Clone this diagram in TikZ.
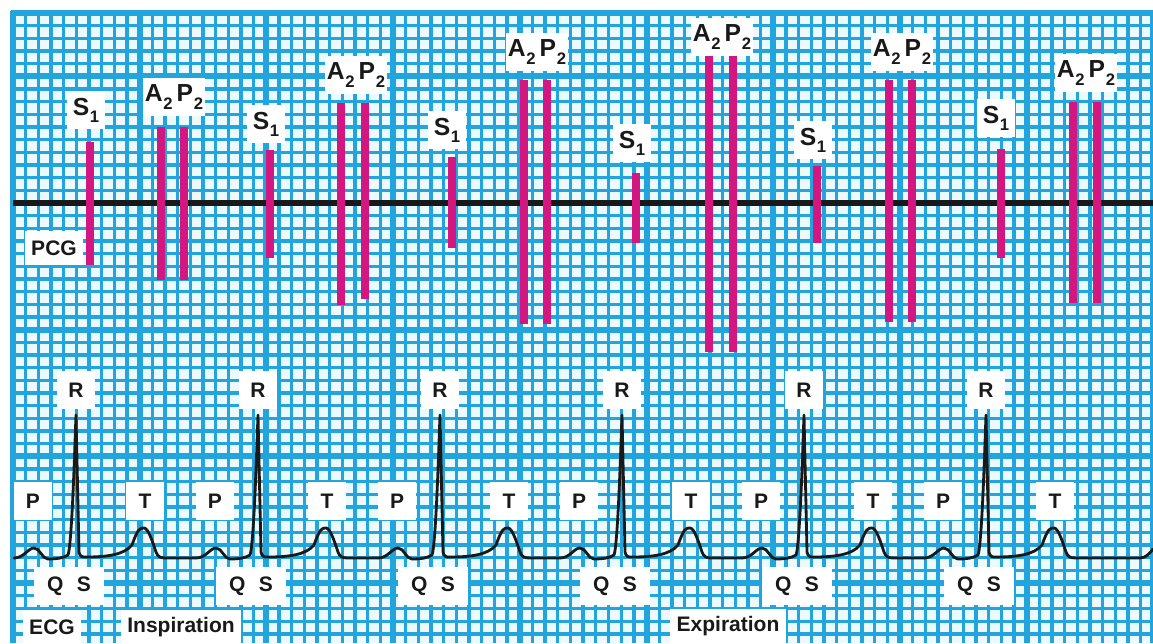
\documentclass[tikz,border=0pt]{standalone}
\usepackage{fontspec}
\setmainfont{Liberation Sans}
\definecolor{gridblue}{RGB}{34,164,220}
\definecolor{cellbg}{RGB}{236,250,254}
\definecolor{barcol}{RGB}{212,22,128}
\definecolor{ink}{RGB}{25,25,25}
\newcommand\lowsub[1]{\kern0.5pt\raisebox{-0.55ex}{\fontsize{12.5}{12.5}\selectfont #1}}
\begin{document}
\begin{tikzpicture}[x=0.75pt,y=-0.75pt,
  minorline/.style={gridblue,line width=2.5pt},
  majorline/.style={gridblue,line width=4.5pt},
  pcgline/.style={ink,line width=3.9pt},
  soundbar/.style={barcol,line width=6.6pt},
  ecgline/.style={ink,line width=2.1pt,line join=round,line cap=round},
  sndlab/.style={fill=white,inner sep=0pt,text=ink,font=\bfseries\fontsize{18.5}{18.5}\selectfont,minimum height=28pt},
  s1box/.style={sndlab,minimum width=28.5pt},
  apbox/.style={sndlab,minimum width=47pt},
  ecglab/.style={fill=white,inner sep=0pt,text=ink,font=\bfseries\fontsize{15.75}{16}\selectfont,minimum width=28pt,minimum height=28pt},
  qsbox/.style={ecglab,minimum width=52pt},
  wordbox/.style={ecglab,inner xsep=5pt,minimum height=25pt}]
\useasboundingbox (0,0) rectangle (1153,643);
\fill[white] (0,0) rectangle (1153,643);
\fill[cellbg] (13,13) rectangle (1153,643);
% grid
\begin{scope}
\clip (10,10) rectangle (1153,643);
\foreach \i in {0,...,90} \draw[minorline] ({13+\i*12.67},13) -- ({13+\i*12.67},643);
\foreach \j in {0,...,50} \draw[minorline] (13,{13+\j*12.67}) -- (1153,{13+\j*12.67});
\foreach \i in {0,...,9} \draw[majorline] ({13+\i*126.7},11) -- ({13+\i*126.7},643);
\draw[majorline] (11,13) -- (1153,13);
\foreach \j in {0,...,4} \draw[majorline] (13,{76.35+\j*126.7}) -- (1153,{76.35+\j*126.7});
\end{scope}
% PCG baseline
\coordinate (pcgL) at (13,203);
\coordinate (pcgR) at (1153,203);
\draw[pcgline] (pcgL) -- (pcgR);
% S1 bars
\draw[soundbar] (90,142) -- (90,265);
\draw[soundbar] (270,150) -- (270,258);
\draw[soundbar] (452,157) -- (452,248);
\draw[soundbar] (636,173) -- (636,243);
\draw[soundbar] (817,166) -- (817,243);
\draw[soundbar] (1001,149) -- (1001,258);
% A2 P2 bars
\draw[soundbar] (161,127) -- (161,280);
\draw[soundbar] (184,127) -- (184,280);
\draw[soundbar] (341,103) -- (341,305);
\draw[soundbar] (365,103) -- (365,299);
\draw[soundbar] (524,80) -- (524,324);
\draw[soundbar] (547,80) -- (547,324);
\draw[soundbar] (709,55) -- (709,352);
\draw[soundbar] (733,55) -- (733,352);
\draw[soundbar] (889,80) -- (889,322);
\draw[soundbar] (912,80) -- (912,322);
\draw[soundbar] (1073,102) -- (1073,303);
\draw[soundbar] (1097,102) -- (1097,303);
% sound labels
\node[s1box] (s1a) at (86,110) {S\lowsub{1}};
\node[s1box] (s1b) at (266,124) {S\lowsub{1}};
\node[s1box] (s1c) at (447,130) {S\lowsub{1}};
\node[s1box] (s1d) at (632,143) {S\lowsub{1}};
\node[s1box] (s1e) at (813,140) {S\lowsub{1}};
\node[s1box] (s1f) at (996,118) {S\lowsub{1}};
\node[apbox] (ap1) at (174,97) {A\lowsub{2}\,P\lowsub{2}};
\node[apbox] (ap2) at (356,75) {A\lowsub{2}\,P\lowsub{2}};
\node[apbox] (ap3) at (537,52) {A\lowsub{2}\,P\lowsub{2}};
\node[apbox] (ap4) at (722,37) {A\lowsub{2}\,P\lowsub{2}};
\node[apbox] (ap5) at (902,52) {A\lowsub{2}\,P\lowsub{2}};
\node[apbox] (ap6) at (1086,73) {A\lowsub{2}\,P\lowsub{2}};
\node[wordbox] (pcg) at (54,248) {PCG};
% ECG labels
\foreach \r [count=\k] in {76,258,440,622,804,986}{
  \node[ecglab] (r\k) at (\r,390) {R};
  \node[ecglab] (p\k) at ({\r-43},501) {P};
  \node[ecglab] (t\k) at ({\r+69},501) {T};
  \node[qsbox] (qs\k) at ({\r-7},586) {Q\hspace{10pt}S};
}
\node[wordbox] (ecg) at (52,627) {ECG};
\node[wordbox] (insp) at (181,627) {Inspiration};
\node[wordbox] (expi) at (728,626) {Expiration};
% ECG trace
\foreach \r in {76,258,440,622,804,986}{
  \draw[ecgline] ({\r-62},558) .. controls ({\r-52},558) and ({\r-48},548) .. ({\r-42},548)
    .. controls ({\r-36},548) and ({\r-34},559) .. ({\r-28},559)
    .. controls ({\r-20},559) and ({\r-12},558) .. ({\r-8},555)
    .. controls ({\r-4},545) and ({\r-1},440) .. (\r,415)
    -- ({\r+3},552)
    .. controls ({\r+4},557) and ({\r+6},557) .. ({\r+10},557)
    .. controls ({\r+30},557) and ({\r+48},555) .. ({\r+56},545)
    .. controls ({\r+62},528) and ({\r+64},528) .. ({\r+68},528)
    .. controls ({\r+72},528) and ({\r+76},540) .. ({\r+80},552)
    .. controls ({\r+82},557) and ({\r+84},558) .. ({\r+90},558)
    -- ({\r+120},558);
}
\draw[ecgline] (1106,558) -- (1140,558) .. controls (1146,558) and (1150,553) .. (1153,549);
\end{tikzpicture}
\end{document}
